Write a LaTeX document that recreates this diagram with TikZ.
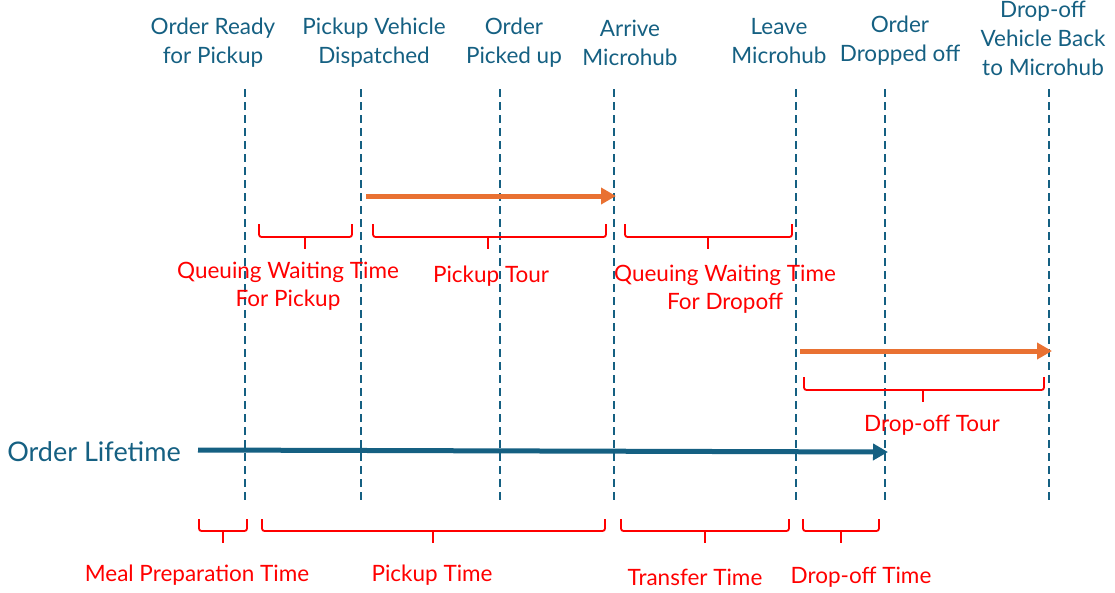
\documentclass[tikz,border=0pt]{standalone}
\usepackage{fontspec}
\setmainfont{Lato}
\usetikzlibrary{arrows.meta}
\definecolor{acc}{HTML}{156082}
\definecolor{org}{HTML}{E97132}
\definecolor{red}{HTML}{FF0000}
\tikzset{
  tl/.style={font=\fontsize{22.5}{29}\selectfont, text=acc, align=center, inner sep=0pt},
  rl/.style={font=\fontsize{22.5}{28}\selectfont, text=red, align=center, inner sep=0pt},
  vline/.style={draw=acc, line width=2pt, dash pattern=on 8pt off 5pt},
  orarrow/.style={draw=org, line width=5pt, -{Triangle[length=15pt,width=16pt]}},
  lifearrow/.style={draw=acc, line width=5pt, -{Triangle[length=15pt,width=16pt]}},
  brk/.style={draw=red, line width=1.8pt, rounded corners=2.5pt},
  tick/.style={draw=red, line width=1.8pt},
}
\newcommand{\brkt}[5]{% x1 x2 top horiz mid
  \draw[brk] (#1,#3) -- (#1,#4) -- (#2,#4) -- (#2,#3);
  \draw[tick] (#5,#4) -- (#5,#4+12);
}
\begin{document}
\begin{tikzpicture}[x=1pt,y=-1pt]
\useasboundingbox (0,0) rectangle (1115,592);
% vertical dashed lines
\foreach \n/\x in {a/245,b/361,c/500,d/614,e/796,f/885,g/1049}{
  \coordinate (\n top) at (\x,89);
  \coordinate (\n bot) at (\x,500);
  \draw[vline] (\n top) -- (\n bot);
}
% top labels
\node[tl] (n1) at (213,43) {Order Ready\\for Pickup};
\node[tl] (n2) at (374,43) {Pickup Vehicle\\Dispatched};
\node[tl] (n3) at (514,43) {Order\\Picked up};
\node[tl] (n4) at (630,43) {Arrive\\Microhub};
\node[tl] (n5) at (779,41) {Leave\\Microhub};
\node[tl] (n6) at (900,41) {Order\\Dropped off};
\node[tl] (n7) at (1043,38) {Drop-off\\Vehicle Back\\to Microhub};
% orange arrows
\coordinate (p1s) at (366,196); \coordinate (p1e) at (616,196);
\draw[orarrow] (p1s) -- (p1e);
\coordinate (p2s) at (800,351); \coordinate (p2e) at (1052,351);
\draw[orarrow] (p2s) -- (p2e);
% order lifetime
\node[font=\fontsize{27}{30}\selectfont, text=acc, inner sep=0pt] (ol) at (94,452) {Order Lifetime};
\coordinate (ls) at (198,450); \coordinate (le) at (888,452);
\draw[lifearrow] (ls) -- (le);
% brackets
\brkt{259}{352}{224}{237}{305}
\brkt{373}{606}{224}{237}{488}
\brkt{625}{792}{224}{237}{708}
\brkt{804}{1044}{377}{390}{923}
\brkt{199}{247}{519}{531}{223}
\brkt{262}{605}{519}{531}{433}
\brkt{621}{789}{519}{531}{705}
\brkt{803}{879}{519}{531}{841}
% red labels
\node[rl] (q1) at (288,286) {Queuing Waiting Time\\For Pickup};
\node[rl] (pt) at (491,276) {Pickup Tour};
\node[rl] (q2) at (725,289) {Queuing Waiting Time\\For Dropoff};
\node[rl] (dt) at (932,425) {Drop-off Tour};
\node[rl] (mp) at (197,575) {Meal Preparation Time};
\node[rl] (pk) at (432,575) {Pickup Time};
\node[rl] (tr) at (695,577) {Transfer Time};
\node[rl] (do) at (861,577) {Drop-off Time};
\end{tikzpicture}
\end{document}
